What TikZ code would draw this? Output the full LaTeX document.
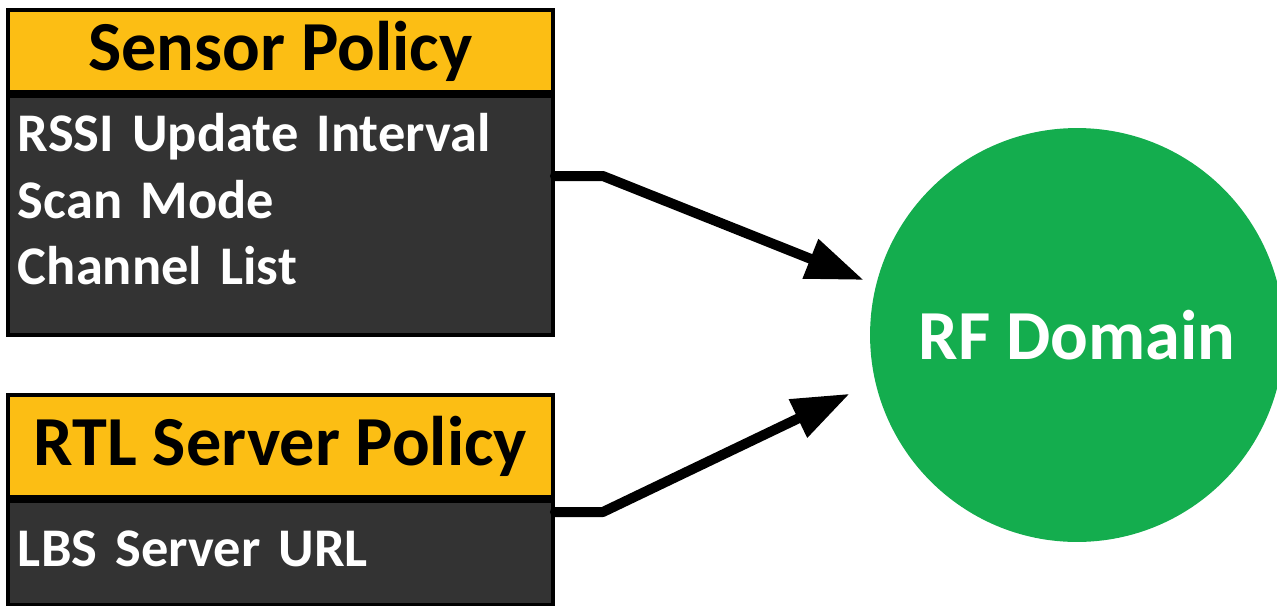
\documentclass[tikz,border=0pt]{standalone}
\usepackage{fontspec}
\setmainfont{Carlito}
\usetikzlibrary{positioning,arrows.meta}
\definecolor{policyyellow}{RGB}{252,190,20}
\definecolor{bodygray}{RGB}{51,51,51}
\definecolor{domaingreen}{RGB}{20,173,78}

\begin{document}
\begin{tikzpicture}[x=0.02cm,y=-0.02cm,node distance=0pt,
    head/.style={rectangle,draw=black,line width=0.08cm,fill=policyyellow,minimum width=10.9cm,inner sep=0pt,font=\fontsize{40}{48}\selectfont\bfseries},
    body/.style={rectangle,draw=black,line width=0.08cm,fill=bodygray,minimum width=10.9cm,text width=10.5cm,align=left,inner sep=0pt,text=white,font=\fontsize{31}{38}\selectfont\bfseries},
    flow/.style={line width=0.2cm,line cap=round,line join=round,-{Triangle[length=1.15cm,width=0.8cm]}}]
  \useasboundingbox (0,0) rectangle (1277,605);
  % policies on the left
  \node[head,minimum height=1.64cm,anchor=north west] (sensor) at (6,8) {Sensor Policy};
  \node[body,minimum height=4.78cm,below=of sensor] (sensorbody) {RSSI Update Interval\\Scan Mode\\Channel List\rule[-0.66cm]{0pt}{0.66cm}};
  \node[head,minimum height=2.04cm,anchor=north west] (rtl) at (6,393) {RTL Server Policy};
  \node[body,minimum height=2.08cm,below=of rtl] (rtlbody) {LBS Server URL\rule[-0.16cm]{0pt}{0.16cm}};
  % the domain
  \node[circle,fill=domaingreen,minimum size=8.28cm,text=white,font=\fontsize{40}{48}\selectfont\bfseries] (rf) at (1077,335) {RF Domain};
  \draw[flow,shorten >=0.26cm] (sensorbody.east |- 0,176) -- ++(48,0) -- (rf.166);
  \draw[flow,shorten >=0.56cm] (rtlbody.east |- 0,512) -- ++(48,0) -- (rf.193);
\end{tikzpicture}
\end{document}
